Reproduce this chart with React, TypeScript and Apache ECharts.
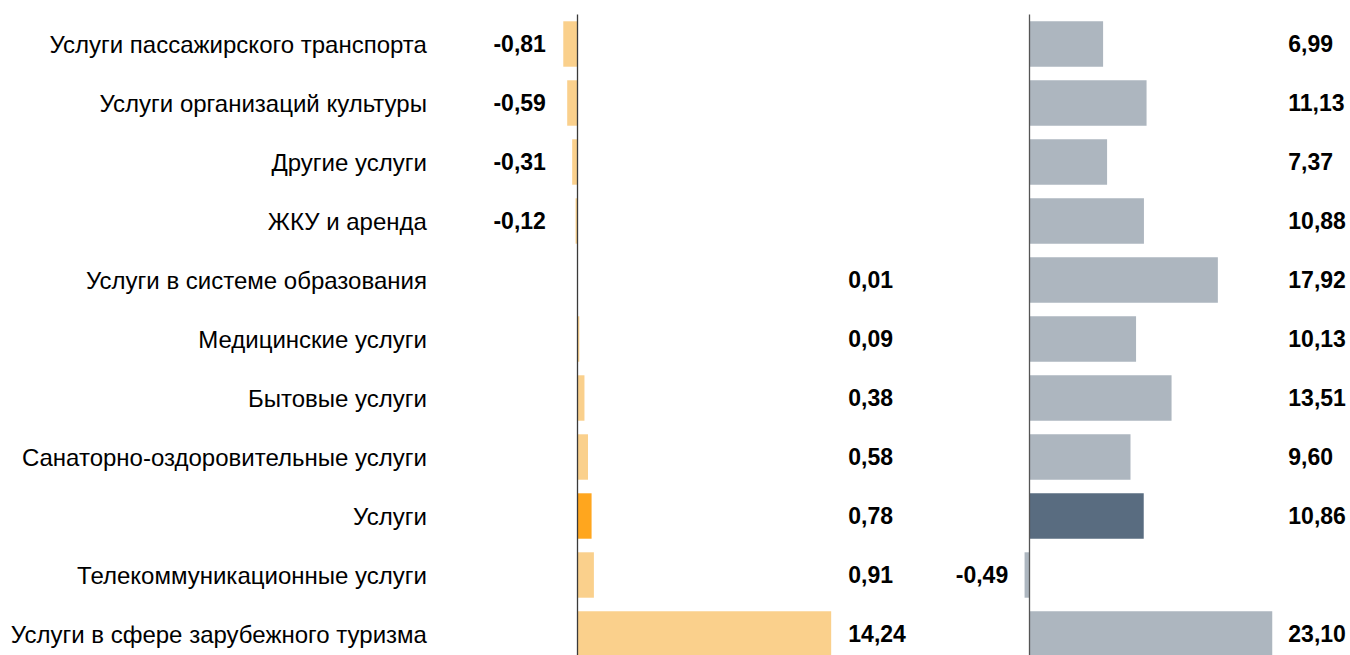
import React, { useEffect, useRef } from "react";
import * as echarts from "echarts";

const categories = [
  "Услуги пассажирского транспорта",
  "Услуги организаций культуры",
  "Другие услуги",
  "ЖКУ и аренда",
  "Услуги в системе образования",
  "Медицинские услуги",
  "Бытовые услуги",
  "Санаторно-оздоровительные услуги",
  "Услуги",
  "Телекоммуникационные услуги",
  "Услуги в сфере зарубежного туризма",
];
const leftValues = [-0.81, -0.59, -0.31, -0.12, 0.01, 0.09, 0.38, 0.58, 0.78, 0.91, 14.24];
const rightValues = [6.99, 11.13, 7.37, 10.88, 17.92, 10.13, 13.51, 9.6, 10.86, -0.49, 23.1];
const highlightCategory = "Услуги";

const FONT = "'Liberation Sans', Arial, sans-serif";
const fmt = (v: number) => v.toFixed(2).replace(".", ",");

export default function App() {
  const ref = useRef<HTMLDivElement>(null);
  useEffect(() => {
    if (!ref.current) return;
    const chart = echarts.init(ref.current, null, { renderer: "svg" });
    const top = 14.5;
    const height = 649;
    const catAxisBase = {
      type: "category" as const,
      data: categories,
      inverse: true,
      axisLine: { show: false, onZero: false },
      axisTick: { show: false },
      splitLine: { show: false },
    };
    const valLabel = (margin: number, arr: number[], neg: boolean) => ({
      show: true,
      interval: 0,
      margin,
      color: "#000",
      fontFamily: FONT,
      fontWeight: "bold" as const,
      fontSize: 23,
      formatter: (_v: string, i: number) => ((arr[i] < 0) === neg ? fmt(arr[i]) : ""),
    });
    const zeroLine = {
      silent: true,
      symbol: "none",
      label: { show: false },
      lineStyle: { color: "#3a3a3a", width: 1.3, type: "solid" as const },
      data: [{ xAxis: 0 }],
    };
    chart.setOption({
      animation: false,
      backgroundColor: "#fff",
      grid: [
        { left: 559.9, top, width: 284.8, height },
        { left: 1019.2, top, width: 262.5, height },
      ],
      xAxis: [
        { gridIndex: 0, type: "value", min: -1, max: 15, show: false },
        { gridIndex: 1, type: "value", min: -1, max: 24, show: false },
      ],
      yAxis: [
        {
          ...catAxisBase,
          gridIndex: 0,
          position: "left",
          axisLabel: {
            show: true,
            interval: 0,
            margin: 133,
            color: "#000",
            fontFamily: FONT,
            fontSize: 24,
          },
        },
        { ...catAxisBase, gridIndex: 0, position: "left", axisLabel: valLabel(14, leftValues, true) },
        { ...catAxisBase, gridIndex: 0, position: "right", axisLabel: valLabel(3.6, leftValues, false) },
        { ...catAxisBase, gridIndex: 1, position: "left", axisLabel: valLabel(11, rightValues, true) },
        { ...catAxisBase, gridIndex: 1, position: "right", axisLabel: valLabel(6.6, rightValues, false) },
      ],
      series: [
        {
          type: "bar",
          xAxisIndex: 0,
          yAxisIndex: 0,
          barWidth: "77%",
          data: leftValues.map((v, i) => ({
            value: v,
            itemStyle: { color: categories[i] === highlightCategory ? "#FFA61E" : "#FAD08C" },
          })),
          markLine: zeroLine,
        },
        {
          type: "bar",
          xAxisIndex: 1,
          yAxisIndex: 3,
          barWidth: "77%",
          data: rightValues.map((v, i) => ({
            value: v,
            itemStyle: { color: categories[i] === highlightCategory ? "#596C80" : "#ADB6BF" },
          })),
          markLine: { ...zeroLine, lineStyle: { color: "#555", width: 1.3, type: "solid" as const } },
        },
      ],
    });
    return () => chart.dispose();
  }, []);
  return (
    <div style={{ position: "fixed", left: 0, top: 0, width: 1350, height: 655, overflow: "hidden", background: "#fff" }}>
      <div ref={ref} style={{ width: 1350, height: 664 }} />
    </div>
  );
}
